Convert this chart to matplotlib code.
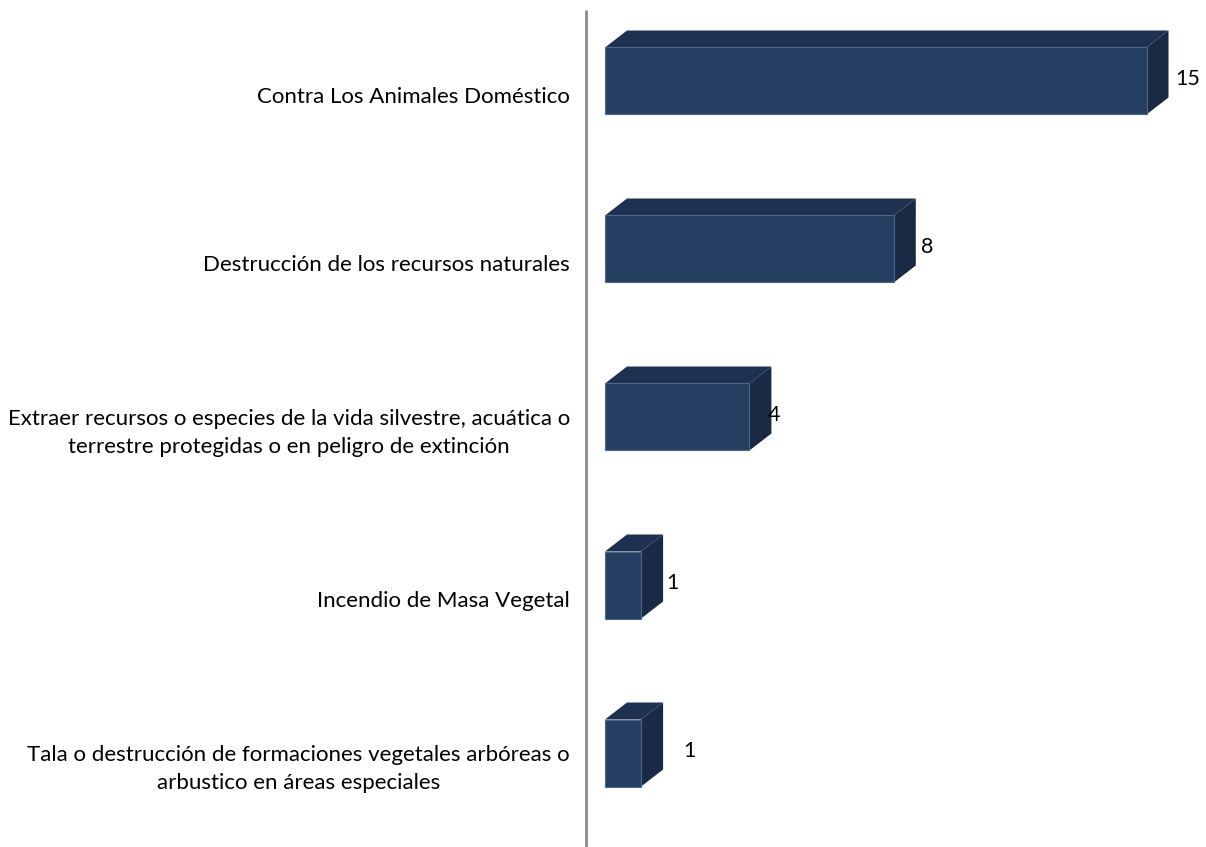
import matplotlib.pyplot as plt

#### Data

categories = [
    'Contra Los Animales Doméstico',
    'Destrucción de los recursos naturales',
    'Extraer recursos o especies de la vida silvestre, acuática o\nterrestre protegidas o en peligro de extinción',
    'Incendio de Masa Vegetal',
    'Tala o destrucción de formaciones vegetales arbóreas o\narbustico en áreas especiales',
]
values = [15, 8, 4, 1, 1]
value_labels = ['15', '8', '4', '1', '1']

#### Style

W, H = 1206, 847
PX_PER_UNIT = 36.1        # pixels per unit of value
PX_PER_CAT = 168          # pixels between categories
ZERO_PX = 605             # pixel x of value 0
FIRST_PX = 81             # pixel y of first category centre
FRONT = '#243F62'
TOP = '#1E3150'
SIDE = '#1A2A44'
EDGE = '#4D6689'
DEPTH_X = 22 / PX_PER_UNIT
DEPTH_Y = 17 / PX_PER_CAT
BAR_H = 67 / PX_PER_CAT
LABEL_NUDGE = [0.2, 0.15, -0.1, 0.1, 0.55]  # Excel places the labels a bit unevenly

fig = plt.figure(figsize=(W / 100, H / 100), dpi=100)
ax = fig.add_axes([0, 0, 1, 1])
ax.set_xlim(-ZERO_PX / PX_PER_UNIT, (W - ZERO_PX) / PX_PER_UNIT)
ax.set_ylim((H - FIRST_PX) / PX_PER_CAT, -FIRST_PX / PX_PER_CAT)
ax.axis('off')

font = ['Lato', 'DejaVu Sans']

for i, (cat, v) in enumerate(zip(categories, values)):
    y0, y1 = i - BAR_H / 2, i + BAR_H / 2
    # top face
    ax.fill([0, v, v + DEPTH_X, DEPTH_X], [y0, y0, y0 - DEPTH_Y, y0 - DEPTH_Y],
            fc=TOP, ec='none', zorder=2)
    # side face
    ax.fill([v, v + DEPTH_X, v + DEPTH_X, v], [y0, y0 - DEPTH_Y, y1 - DEPTH_Y, y1],
            fc=SIDE, ec='none', zorder=2)
    # front face
    ax.fill([0, v, v, 0], [y0, y0, y1, y1], fc=FRONT, ec=EDGE, lw=0.8, zorder=3)
    ax.text(v + DEPTH_X + LABEL_NUDGE[i], i - 0.01, value_labels[i], ha='left', va='center',
            fontsize=15.5, family=font, color='black', zorder=4)
    ax.text(-35 / PX_PER_UNIT, i + 0.095, cat, ha='right', va='center', fontsize=16,
            family=font, color='black', linespacing=1.45, multialignment='center')

# vertical category axis line
axis_x = (586 - ZERO_PX) / PX_PER_UNIT
ax.plot([axis_x, axis_x], [(10 - FIRST_PX) / PX_PER_CAT, (H - FIRST_PX) / PX_PER_CAT],
        color='#8C8C8C', lw=2, solid_capstyle='butt', zorder=1)

fig.savefig('out.png', dpi=100, facecolor='white')
